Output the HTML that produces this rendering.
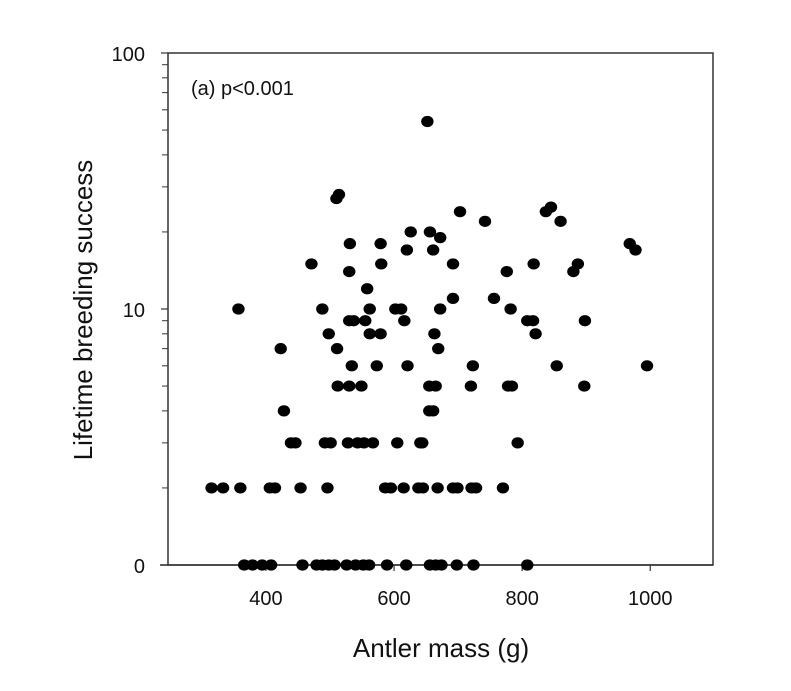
<!DOCTYPE html>
<html><head><meta charset="utf-8"><style>
html,body{margin:0;padding:0;background:#fff;}
svg{display:block;font-family:"Liberation Sans",Arial,sans-serif;}
</style></head><body>
<svg id="chart" width="791" height="691" viewBox="0 0 791 691"></svg>
<script>
// Data: antler mass (g) and lifetime breeding success counts
const xs0=[366,379,394,408,457,479,488,498,507,526,540,552,561,589,619,656,665,674,698,724,808];
const xs1=[315,333,360,406,414,454,496,586,595,615,638,645,668,692,699,721,728,770];
const xs2=[439,446,492,501,528,543,553,567,605,641,644,793];
const xs3=[428,655,661];
const xs4=[512,530,549,655,665,720,778,784,897];
const xs5=[534,573,621,723,854,995];
const xs6=[423,511,669];
const xs7=[498,562,579,663,821];
const xs8=[530,537,555,616,808,817,898];
const xs9=[357,488,562,602,611,672,782];
const highX=[558,692,756,530,776,880,471,580,692,818,887,620,661,977,531,579,968,672,626,656,742,860,703,837,845,510,514,652];
const highY=[11,10,10,13,13,13,14,14,14,14,14,16,16,16,17,17,17,18,19,19,21,21,23,23,24,26,27,53];
const xTicks=[400,600,800,1000];
const yTickVals=[0,9,99];
const yTickLabels=["0","10","100"];
const minorU=[2,3,4,5,6,7,8,9,20,30,40,50,60,70,80,90];

const L=168,R=713,T=53,B=565;
const xMin=247,xMax=1098;
function X(v){return L+(v-xMin)/(xMax-xMin)*(R-L);}
function Yu(u){return B-Math.log10(u)/2*(B-T);}
function Y(v){return Yu(v+1);}

const NS="http://www.w3.org/2000/svg";
const svg=document.getElementById('chart');
function mk(tag,attrs,parent){const e=document.createElementNS(NS,tag);for(const k in attrs)e.setAttribute(k,attrs[k]);(parent||svg).appendChild(e);return e;}

const frame=mk('rect',{x:L,y:T,width:R-L,height:B-T,fill:'none',stroke:'#333','stroke-width':1.5});


const xl=mk('line',{x1:160,y1:B,x2:R,y2:B,stroke:'#333','stroke-width':1.5});



xTicks.forEach(t=>{
  const tk=mk('line',{x1:X(t),y1:B,x2:X(t),y2:B+6,stroke:'#333','stroke-width':1.2});
  
  
  const tx=mk('text',{x:X(t),y:B+40,'text-anchor':'middle','font-size':20,fill:'#111'});
  tx.textContent=t;
  
  
});
yTickVals.forEach((t,i)=>{
  const tk=mk('line',{x1:L-7,y1:Y(t),x2:L,y2:Y(t),stroke:'#333','stroke-width':1.2});
  
  
  const tx=mk('text',{x:145,y:Y(t)+8,'text-anchor':'end','font-size':20,fill:'#111'});
  tx.textContent=yTickLabels[i];
  
  
});
minorU.forEach(u=>{
  const tk=mk('line',{x1:L-6,y1:Yu(u),x2:L,y2:Yu(u),stroke:'#333','stroke-width':1});
  
  
});

function dot(x,v){
  const c=mk('ellipse',{cx:X(x),cy:Y(v),rx:6.2,ry:5.6,fill:'#000'});
  
  
}
[xs0,xs1,xs2,xs3,xs4,xs5,xs6,xs7,xs8,xs9].forEach((arr,v)=>arr.forEach(x=>dot(x,v)));
highX.forEach((x,i)=>dot(x,highY[i]));

const ann=mk('text',{x:191,y:95,'font-size':20,fill:'#111'});
ann.textContent='(a) p<0.001';



const xt=mk('text',{x:441,y:657,'text-anchor':'middle','font-size':26,fill:'#111'});
xt.textContent='Antler mass (g)';



const yt=mk('text',{x:0,y:0,'text-anchor':'middle','font-size':26,fill:'#111',transform:'translate(92,310) rotate(-90)'});
yt.textContent='Lifetime breeding success';


</script>
</body></html>
